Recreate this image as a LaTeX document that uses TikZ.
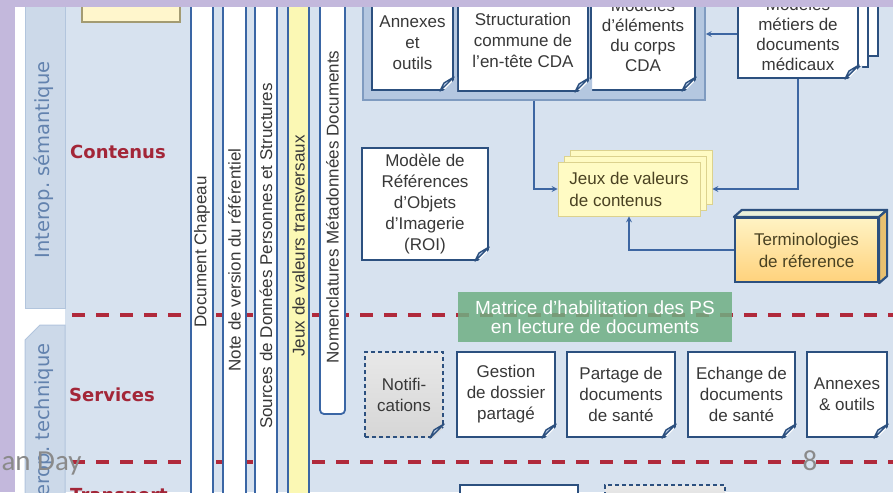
\documentclass[tikz,border=0pt]{standalone}
\usepackage{fontspec}
\setmainfont{Liberation Sans}
\newfontfamily\labelfont{DejaVu Sans}
\newfontfamily\footfont{Carlito}
\usetikzlibrary{positioning,calc}

\definecolor{lavbg}{HTML}{C3B8DC}
\definecolor{panelbg}{HTML}{D7E2EF}
\definecolor{tabbg}{HTML}{CCD9E9}
\definecolor{tabline}{HTML}{B2C5DD}
\definecolor{tabtxt}{HTML}{6282AE}
\definecolor{boxline}{HTML}{2C507F}
\definecolor{barline}{HTML}{3A66A5}
\definecolor{arrowblue}{HTML}{3D66A2}
\definecolor{redlbl}{HTML}{A32638}
\definecolor{reddash}{HTML}{B0293B}
\definecolor{cdabg}{HTML}{B4C7E0}
\definecolor{cdaline}{HTML}{7F9BC0}
\definecolor{foldblue}{HTML}{C4D6EE}
\definecolor{jeuxbg}{HTML}{FFFBC4}
\definecolor{jeuxedge}{HTML}{DCD28E}
\definecolor{jeuxtxt}{HTML}{4A4222}
\definecolor{yellowbar}{HTML}{FBF8B4}
\definecolor{termtop}{HTML}{FFF3C4}
\definecolor{termbot}{HTML}{FFD27C}
\definecolor{termface}{HTML}{EAF0DA}
\definecolor{termright}{HTML}{E8C070}
\definecolor{matgreen}{HTML}{6FAF83}
\definecolor{txtgray}{HTML}{383838}
\definecolor{footgray}{HTML}{8A8A8A}
\definecolor{topnotebg}{HTML}{FFF6CC}
\definecolor{topnoteline}{HTML}{A39B72}

\begin{document}
\begin{tikzpicture}[x=1pt, y=-1pt,
    docbox/.style={draw=boxline, line width=2pt, fill=white, align=center, text=txtgray,
      font=\fontsize{17}{21}\selectfont, inner sep=0pt},
    notifbox/.style={docbox, dash pattern=on 4pt off 3pt, top color=gray!18, bottom color=gray!32},
    barbox/.style={draw=barline, line width=1.8pt, fill=white, rotate=90, text=txtgray,
      font=\fontsize{17}{17}\selectfont, inner sep=0pt},
    cdabox/.style={draw=cdaline, line width=1.5pt, fill=cdabg},
    jeuxback/.style={draw=jeuxedge, line width=0.8pt, fill=jeuxbg},
    jeuxbox/.style={jeuxback, align=left, text=jeuxtxt, font=\fontsize{17}{22}\selectfont},
    termbox/.style={draw=boxline, line width=2.2pt, top color=termtop, bottom color=termbot,
      align=center, text=jeuxtxt, font=\fontsize{17}{22}\selectfont},
    termside/.style={draw=boxline, line width=2.2pt, line join=round},
    matbox/.style={fill=matgreen, fill opacity=0.85, text opacity=1, text=white, align=center,
      font=\fontsize{19}{19.5}\selectfont},
    rowlabel/.style={text=redlbl, font={\labelfont\bfseries\fontsize{18}{18}\selectfont}},
    tablabel/.style={text=tabtxt, rotate=90, font={\labelfont\fontsize{19.5}{20}\selectfont}},
    tabfill/.style={fill=tabbg, draw=tabline, line width=1pt},
    redline/.style={draw=reddash, line width=3.5pt, dash pattern=on 13pt off 11pt},
    arr/.style={draw=arrowblue, line width=1.6pt, ->, >=stealth},
    footer/.style={text=footgray, font={\footfont\fontsize{29}{29}\selectfont}}]
  \useasboundingbox (0,0) rectangle (893,492);
  \clip (0,0) rectangle (893,492);

  % fond
  \fill[lavbg] (0,0) rectangle (893,492);
  \fill[white] (15,7) rectangle (893,492);
  \fill[panelbg] (65,7) rectangle (893,492);

  % onglets
  \filldraw[tabfill] (25,-5) rectangle (65,308);
  \filldraw[tabfill] (25,340) -- (40,325) -- (65,325) -- (65,520) -- (25,520) -- cycle;
  \node[tablabel] (semtab) at (44,160) {Interop.\ sémantique};
  \node[tablabel] (techtab) at (44,433) {Interop.\ technique};

  % niveaux
  \node[rowlabel] (contenus) at (118,152) {Contenus};
  \node[rowlabel] (services) at (112,395) {Services};
  \node[rowlabel, anchor=north west, inner sep=0pt] (transport) at (70,488) {Transport};

  \draw[redline] (72,315) -- (893,315);
  \draw[redline] (72,462) -- (893,462);

  \node[draw=topnoteline, line width=1.2pt, fill=topnotebg, minimum width=98, minimum height=40] (topnote) at (131,2) {};

  % bandes verticales
  \node[barbox, minimum width=530, minimum height=22] (chapeau) at (202,252) {Document Chapeau};
  \node[barbox, minimum width=540, minimum height=23] (version) at (234.5,260) {Note de version du référentiel};
  \node[barbox, minimum width=530, minimum height=22] (sources) at (266,256) {Sources de Données Personnes et Structures};
  \node[barbox, fill=yellowbar, minimum width=520, minimum height=21] (jeuxtrans) at (298.5,246) {Jeux de valeurs transversaux};
  \node[barbox, rounded corners=4pt, minimum width=414, minimum height=25] (nomencl) at (332.5,207) {Nomenclatures Métadonnées Documents};

  % CDA
  \node[cdabox, minimum width=342, minimum height=130] (cda) at (534,35) {};
  \node[docbox, minimum width=81, minimum height=94] (annexes) at (412.5,43) {Annexes\\et\\outils};
  \node[docbox, minimum width=130, minimum height=102] (struct) at (523,40) {Structuration\\commune de\\l'en-tête CDA};
  \node[docbox, font=\fontsize{17}{20}\selectfont, minimum width=104, minimum height=110] (modeles) at (643,35) {Modèles\\d'éléments\\du corps\\CDA};

  % modeles metiers
  \filldraw[draw=boxline, line width=2pt, fill=white] (758,-30) rectangle (878,56);
  \filldraw[draw=boxline, line width=2pt, fill=white] (748,-30) rectangle (868,67);
  \node[docbox, font=\fontsize{17}{20}\selectfont, minimum width=120, minimum height=88] (metiers) at (798,34) {Modèles\\métiers de\\documents\\médicaux};

  \node[docbox, minimum width=126, minimum height=112] (roi) at (425,204) {Modèle de\\Références\\d'Objets\\d'Imagerie\\(ROI)};

  % jeux de valeurs
  \filldraw[jeuxback] (570,150) rectangle (712,204);
  \filldraw[jeuxback] (564,156) rectangle (706,210);
  \node[jeuxbox, minimum width=142, minimum height=54] (jeux) at (629,189) {Jeux de valeurs\\de contenus};

  \node[termbox, minimum width=143, minimum height=64] (termino) at (806.5,250) {Terminologies\\de réference};
  \filldraw[termside, fill=termface] (termino.north west) -- ++(8,-7) -- ($(termino.north east)+(8,-7)$) -- (termino.north east) -- cycle;
  \filldraw[termside, fill=termright] (termino.north east) -- ++(8,-7) -- ($(termino.south east)+(8,-7)$) -- (termino.south east) -- cycle;

  \node[matbox, minimum width=274, minimum height=50] (matrice) at (595,317) {Matrice d'habilitation des PS\\en lecture de documents};

  % services
  \node[notifbox, minimum width=78, minimum height=85] (notif) at (404,394.5) {Notifi-\\cations};
  \node[docbox, minimum width=98, minimum height=85] (gestion) at (506,394.5) {Gestion\\de dossier\\partagé};
  \node[docbox, minimum width=108, minimum height=85] (partage) at (621,394.5) {Partage de\\documents\\de santé};
  \node[docbox, minimum width=107, minimum height=85] (echange) at (741.5,394.5) {Echange de\\documents\\de santé};
  \node[docbox, minimum width=80, minimum height=85] (annexsrv) at (847,394.5) {Annexes\\\& outils};

  \node[docbox, minimum width=118, minimum height=40] (bottomA) at (519,505) {};
  \node[notifbox, minimum width=120, minimum height=40] (bottomB) at (665,505) {};

  % coins plies
  \foreach \n/\bg in {annexes/cdabg, struct/cdabg, modeles/cdabg, metiers/panelbg, roi/panelbg,
      notif/panelbg, gestion/panelbg, partage/panelbg, echange/panelbg, annexsrv/panelbg}{
    \fill[\bg] ($(\n.south east)+(-14,3)$) -- ($(\n.south east)+(3,3)$) -- ($(\n.south east)+(3,-14)$) -- cycle;
    \filldraw[draw=boxline, line width=1.4pt, fill=foldblue, line join=round]
      ($(\n.south east)+(-14,0)$) -- ($(\n.south east)+(0,-14)$) -- ($(\n.south east)+(-10,-8)$) -- cycle;
  }

  % liens
  \draw[arr] (metiers.west) -- (metiers.west -| cda.east);
  \draw[arr] (cda.south) |- (jeux.west);
  \draw[arr] (metiers.south) |- ($(jeux.east)+(12,0)$);
  \draw[arr] (termino.west) -| (jeux.south);

  % cadre
  \fill[lavbg] (0,0) rectangle (893,7);
  \fill[lavbg] (0,0) rectangle (15,492);
  \node[footer, anchor=base west] (event) at (-2,470) {an Day};
  \node[footer, anchor=base] (pageno) at (810,470) {8};
\end{tikzpicture}
\end{document}
